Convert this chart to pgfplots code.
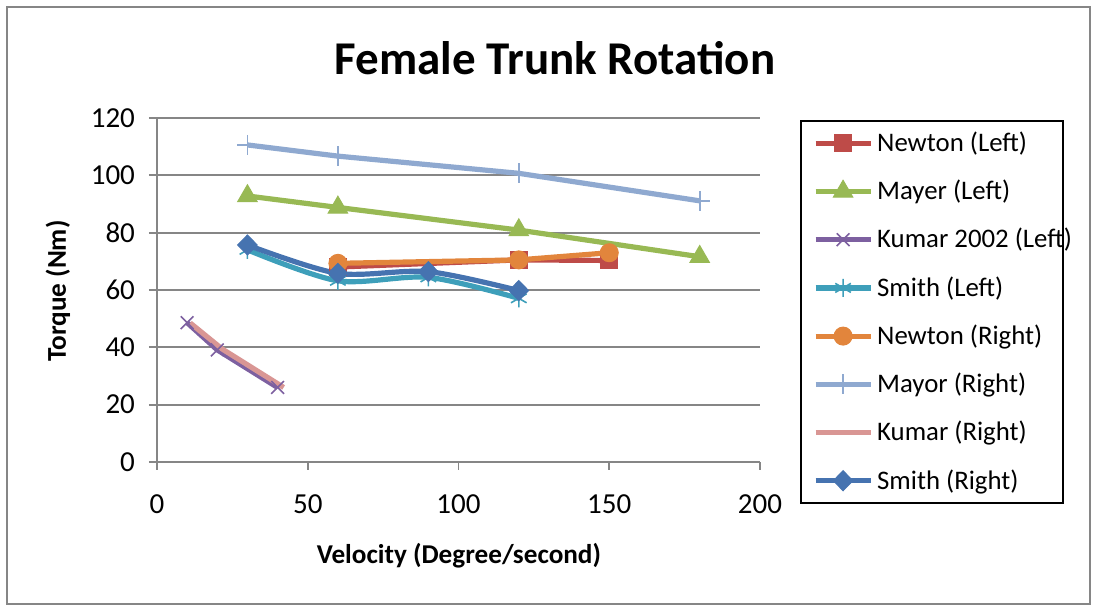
\documentclass[border=0pt]{standalone}
\usepackage{fontspec}
\setmainfont{Carlito}
\usepackage{pgfplots}
\pgfplotsset{compat=1.18}

\definecolor{gridgray}{HTML}{868686}
\definecolor{cNewL}{HTML}{BE4B48}
\definecolor{cMayL}{HTML}{98B954}
\definecolor{cKumL}{HTML}{7D60A0}
\definecolor{cSmiL}{HTML}{3E9FBA}
\definecolor{cNewR}{HTML}{E2853C}
\definecolor{cMayR}{HTML}{8FA9D0}
\definecolor{cKumR}{HTML}{D99694}
\definecolor{cSmiR}{HTML}{4673B0}

% legend entries keep a fixed width, longer text runs over the frame
\newcommand{\legentry}[1]{\makebox[87pt][l]{#1}}

\begin{document}
\begin{tikzpicture}
\begin{axis}[
  scale only axis, width=301.5pt, height=172pt,
  clip=false,
  xmin=0, xmax=200, ymin=0, ymax=120,
  xtick={0,50,...,200}, ytick={0,20,...,120},
  axis lines=left,
  axis line style={-, draw=gridgray, line width=0.9pt},
  tick align=outside, major tick length=4pt,
  tick style={draw=gridgray, line width=0.9pt},
  ymajorgrids, grid style={draw=gridgray, line width=0.9pt},
  tick label style={font=\fontsize{14.5}{17}\selectfont},
  xticklabel style={yshift=-9pt},
  yticklabel style={xshift=-3.5pt},
  /pgf/number format/assume math mode=true,
  title={Female Trunk Rotation},
  title style={at={(axis description cs:0.66,1.14)}, anchor=center,
    font=\bfseries\fontsize{23.5}{28}\selectfont},
  xlabel={Velocity (Degree/second)},
  ylabel={Torque (Nm)},
  label style={font=\bfseries\fontsize{13.6}{16}\selectfont},
  xlabel style={at={(axis description cs:0.5008,-0.2733)}, anchor=center},
  ylabel style={at={(axis description cs:-0.1642,0.497)}, anchor=center},
  legend image code/.code={
    \draw[mark repeat=2, mark phase=2] plot coordinates {(0pt,0pt) (13.75pt,0pt) (27.5pt,0pt)};},
  legend style={at={(axis description cs:1.0663,0.9942)}, anchor=north west,
    draw=black, line width=1pt, fill=white,
    inner xsep=6pt, inner ysep=5.5pt, row sep=12.8pt, column sep=2pt,
    font=\fontsize{13.4}{16}\selectfont,
    nodes={inner sep=0pt}},
  legend cell align=left,
]
\path (rel axis cs:-0.26036,-0.42151) rectangle (rel axis cs:1.55390,1.34302);
\draw[gridgray, line width=1pt] (rel axis cs:-0.24876,-0.41279) rectangle (rel axis cs:1.5473,1.3227);

\addplot[color=cNewL, line width=2.6pt, mark=square*, mark size=4.2pt,
  mark options={line width=0.5pt, fill=cNewL}]
  coordinates {(60,68) (120,70.5) (150,70.3)};
\addplot[color=cMayL, line width=2.6pt, mark=triangle*, mark size=5.6pt,
  mark options={line width=0.5pt, fill=cMayL}]
  coordinates {(30,92.8) (60,88.8) (120,80.9) (180,71.6)};
\addplot[color=cKumL, line width=2.6pt, mark=x, mark size=4.5pt,
  mark options={line width=0.8pt}]
  coordinates {(10,48.6) (20,39.1) (40,26)};
\addplot[color=cSmiL, line width=2.6pt, smooth, mark=asterisk, mark size=4.5pt,
  mark options={line width=0.8pt}]
  coordinates {(30,74) (60,63.2) (90,64.4) (120,57.1)};
\addplot[color=cNewR, line width=2.6pt, mark=*, mark size=4.5pt,
  mark options={line width=0.5pt, fill=cNewR}]
  coordinates {(60,69.3) (120,70.5) (150,73)};
\addplot[color=cMayR, line width=2.6pt, mark=+, mark size=5pt,
  mark options={line width=0.8pt}]
  coordinates {(30,110.6) (60,106.7) (120,100.7) (180,91.1)};
\addplot[color=cKumR, line width=2.6pt, no marks]
  coordinates {(11,48.5) (21.5,39.5) (42,26)};
\addplot[color=cSmiR, line width=2.6pt, smooth, mark=diamond*, mark size=5pt,
  mark options={line width=0.5pt, fill=cSmiR, xscale=1.3}]
  coordinates {(30,75.7) (60,65.8) (90,66.4) (120,59.8)};

\legend{\legentry{Newton (Left)}, \legentry{Mayer (Left)}, \legentry{Kumar 2002 (Left)}, \legentry{Smith (Left)},
  \legentry{Newton (Right)}, \legentry{Mayor (Right)}, \legentry{Kumar (Right)}, \legentry{Smith (Right)}}
\end{axis}
\end{tikzpicture}
\end{document}
